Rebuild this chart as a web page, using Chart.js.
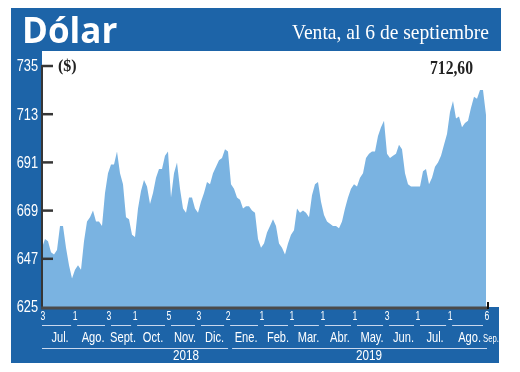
<!DOCTYPE html>
<html>
<head>
<meta charset="utf-8">
<script src="https://cdn.jsdelivr.net/npm/chart.js@4.4.1/dist/chart.umd.min.js"></script>
<style>
  body { margin: 0; background: #fff; }
</style>
</head>
<body>
<canvas id="dolarChart" width="520" height="372"></canvas>
<script>
// Dólar observado, venta ($), 3 jul 2018 - 6 sep 2019, roughly every second trading day
const values = [
  652, 656, 655, 650, 649, 651, 662, 662, 652, 644,
  638, 642, 644, 642, 655, 664, 666, 669, 664, 664,
  662, 677, 686, 690, 690, 696, 686, 681, 666, 665,
  658, 657, 670, 678, 683, 680, 672, 677, 684, 688,
  688, 694, 696, 675, 686, 691, 679, 670, 668, 675,
  675, 670, 668, 673, 677, 682, 681, 686, 689, 692,
  693, 697, 696, 681, 679, 675, 674, 670, 671, 671,
  669, 668, 656, 652, 654, 659, 662, 665, 662, 654,
  652, 649, 654, 658, 660, 670, 668, 669, 668, 666,
  676, 681, 682, 673, 667, 664, 663, 662, 662, 661,
  664, 670, 675, 679, 681, 680, 684, 686, 693, 695,
  696, 696, 703, 707, 710, 695, 693, 694, 695, 699,
  697, 686, 681, 680, 680, 680, 680, 687, 688, 681,
  684, 689, 691, 694, 699, 704, 714, 719, 711, 712,
  707, 709, 710, 716, 721, 720, 724, 724, 712.6
];
const yTicks = [625, 647, 669, 691, 713, 735];
const dayTicks = ['3', '1', '3', '1', '5', '3', '2', '1', '1', '1', '1', '3', '1', '1', '6'];
const dayTickPos = [0, 10.7, 22, 30.7, 42, 52, 61.7, 73, 83, 93.3, 104, 114.7, 125, 135.7, 148];
const months = ['Jul.', 'Ago.', 'Sept.', 'Oct.', 'Nov.', 'Dic.', 'Ene.', 'Feb.', 'Mar.', 'Abr.', 'May.', 'Jun.', 'Jul.', 'Ago.', 'Sep.'];
const years = ['2018', '2019'];
const yearStartTick = [0, 6]; // index into dayTickPos where each year begins
const lastLabel = '712,60';

const BLUE = '#1d64a8';
const SANS = "'Liberation Sans', Arial, sans-serif";
const SERIF = "'Liberation Serif', 'DejaVu Serif', serif";

// condensed text: squeeze a regular face horizontally
function narrowText(ctx, text, x, y, size, sx) {
  ctx.save();
  ctx.font = size + 'px ' + SANS;
  ctx.translate(x, y);
  ctx.scale(sx, 1);
  ctx.fillText(text, 0, 0);
  ctx.restore();
}

const frame = {
  id: 'frame',
  beforeDraw(chart) {
    const ctx = chart.ctx;
    const a = chart.chartArea;
    ctx.save();
    ctx.fillStyle = BLUE;
    ctx.fillRect(11, 8, 490, 43);                 // header band
    ctx.fillRect(11, 51, a.left - 11, 312);       // left strip
    ctx.fillRect(11, a.bottom, 488, 363 - a.bottom); // bottom band

    ctx.fillStyle = '#fff';
    ctx.textBaseline = 'alphabetic';
    ctx.font = "bold 35px 'Open Sans', sans-serif";
    ctx.textAlign = 'left';
    ctx.fillText('Dólar', 22, 43);
    ctx.font = '21px ' + SERIF;
    ctx.textAlign = 'right';
    ctx.fillText('Venta, al 6 de septiembre', 489, 39, 197);
    ctx.restore();
  },
  afterDraw(chart) {
    const ctx = chart.ctx;
    const a = chart.chartArea;
    const xs = chart.scales.x;
    const ys = chart.scales.y;
    ctx.save();

    // y tick labels, condensed like the original
    ctx.fillStyle = '#fff';
    ctx.textAlign = 'right';
    ctx.textBaseline = 'middle';
    ys.ticks.forEach(t => narrowText(ctx, String(t.value), a.left - 4, ys.getPixelForValue(t.value) + 1, 16, 0.8));

    // axis lines and inward ticks
    ctx.strokeStyle = '#363636';
    ctx.lineWidth = 2;
    ctx.beginPath();
    ctx.moveTo(a.left, ys.getPixelForValue(735) - 1);
    ctx.lineTo(a.left, a.bottom + 1);
    ctx.stroke();
    ctx.lineWidth = 2.5;
    yTicks.forEach(v => {
      if (v === yTicks[0]) return;
      const y = ys.getPixelForValue(v);
      ctx.beginPath();
      ctx.moveTo(a.left, y);
      ctx.lineTo(a.left + 11, y);
      ctx.stroke();
    });
    const endX = xs.getPixelForValue(dayTickPos[dayTickPos.length - 1]);
    ctx.strokeStyle = '#4a4a4a';
    ctx.lineWidth = 3;
    ctx.beginPath();
    ctx.moveTo(a.left - 1, a.bottom + 1);
    ctx.lineTo(endX + 2, a.bottom + 1);
    ctx.stroke();
    ctx.strokeStyle = '#111';
    ctx.lineWidth = 2;
    ctx.beginPath();
    ctx.moveTo(endX + 2, a.bottom - 5);
    ctx.lineTo(endX + 2, a.bottom + 2);
    ctx.stroke();

    // bottom labels
    const px = dayTickPos.map(p => xs.getPixelForValue(p));
    ctx.fillStyle = '#fff';
    ctx.textAlign = 'center';
    ctx.textBaseline = 'middle';
    dayTicks.forEach((t, k) => narrowText(ctx, t, px[k] + 1, 317, 12, 0.72));

    ctx.strokeStyle = '#c9d8ee';
    ctx.lineWidth = 1;
    for (let k = 0; k < px.length - 1; k++) {
      ctx.beginPath();
      ctx.moveTo(k === 0 ? px[k] : px[k] + 3, 325.5);
      ctx.lineTo(px[k + 1] - 3, 325.5);
      ctx.stroke();
    }
    months.forEach((m, k) => {
      if (k < px.length - 1) {
        narrowText(ctx, m, (px[k] + px[k + 1]) / 2 + 2, 338, 15, 0.74);
      } else {
        narrowText(ctx, m, px[k] + 5, 339, 11, 0.7);
      }
    });

    years.forEach((yr, k) => {
      const s = px[yearStartTick[k]] + (k === 0 ? 0 : 5);
      const e = k + 1 < years.length ? px[yearStartTick[k + 1]] + 1 : px[px.length - 1] + 1;
      ctx.beginPath();
      ctx.moveTo(s, 348.5);
      ctx.lineTo(e, 348.5);
      ctx.stroke();
    });
    narrowText(ctx, years[0], xs.getPixelForValue(48), 356, 15, 0.78);
    narrowText(ctx, years[1], xs.getPixelForValue(109), 356, 15, 0.78);

    // unit and last value
    ctx.fillStyle = '#222';
    ctx.textAlign = 'left';
    ctx.font = 'bold 16px ' + SERIF;
    ctx.fillText('($)', 58, 67);
    ctx.font = 'bold 18px ' + SERIF;
    ctx.fillText(lastLabel, 430, 69, 43);
    ctx.restore();
  }
};

new Chart(document.getElementById('dolarChart'), {
  type: 'line',
  data: {
    datasets: [{
      data: values.map((v, i) => ({ x: i, y: v })),
      backgroundColor: '#7ab3e1',
      borderWidth: 0,
      pointRadius: 0,
      fill: 'start',
      tension: 0
    }]
  },
  options: {
    responsive: false,
    animation: false,
    layout: { padding: { left: 11, top: 66, right: 34, bottom: 65 } },
    plugins: { legend: { display: false }, tooltip: { enabled: false } },
    scales: {
      x: { type: 'linear', min: 0, max: values.length - 1, display: false },
      y: {
        min: 625,
        max: 735,
        afterBuildTicks: s => { s.ticks = yTicks.map(v => ({ value: v })); },
        afterFit: s => { s.width = 31; },
        ticks: { display: false },
        grid: { display: false, drawTicks: false },
        border: { display: false }
      }
    }
  },
  plugins: [frame]
});
</script>
</body>
</html>
